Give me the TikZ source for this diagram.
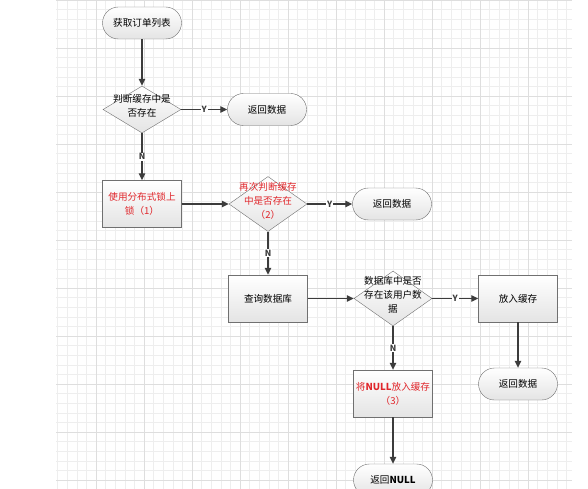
\documentclass[tikz,border=0pt]{standalone}
\usepackage{fontspec}
\setmainfont{Noto Sans CJK SC}
\usepackage{tikz}
\usetikzlibrary{shapes.geometric}
\usetikzlibrary{arrows.meta}
\usetikzlibrary{calc}

\definecolor{bordure}{HTML}{707070}
\definecolor{fleche}{HTML}{3C3C3C}
\definecolor{rouge}{HTML}{E0262B}
\definecolor{fond}{HTML}{E4E4E4}
\definecolor{grillefine}{HTML}{EEEEEE}
\definecolor{grille}{HTML}{DEDEDE}

\newcommand{\dtext}[1]{\smash{\makebox[0pt]{\begin{tabular}{@{}c@{}}#1\end{tabular}}}}

\begin{document}
\begin{tikzpicture}[x=1pt,y=-1pt,
    font=\fontsize{9.6pt}{14pt}\selectfont,
    boite/.style={draw=bordure, top color=white, bottom color=fond, minimum width=79pt, minimum height=47pt, align=center, inner sep=1pt},
    ovale/.style={boite, rounded corners=16pt, minimum height=32pt},
    losange/.style={diamond, draw=bordure, top color=white, bottom color=fond, minimum width=78pt, minimum height=55pt, inner sep=0pt},
    fleche/.style={draw=fleche, line width=1.3pt, -{Triangle[length=7pt,width=6.5pt]}},
    oui/.style={fill=white, inner sep=1pt, font=\fontsize{8.5pt}{10pt}\selectfont\bfseries, text=fleche}]
                % fond
                \fill[white] (0,0) rectangle (588,489);
                \useasboundingbox (0,0) rectangle (588,489);
                \draw[grillefine, line width=0.4pt, xstep=9.6pt, ystep=9.6pt] (56,489) grid (572,0);
                \draw[grille, line width=0.4pt, xstep=48pt, ystep=48pt] (56,489) grid (572,0);

                % cache
                \node[ovale] (debut) at (142,23) {获取订单列表};
                \node[losange, minimum height=47pt] (test1) at (142,109.5) {\dtext{判断缓存中是\\否存在}};
                \node[ovale] (retour1) at (267,109.5) {返回数据};

                % verrou
                \node[boite, text=rouge] (verrou) at (142,204) {使用分布式锁上\\锁（1）};
                \node[losange, text=rouge] (test2) at (268,204) {\dtext{再次判断缓存\\中是否存在\\（2）}};
                \node[ovale] (retour2) at (392,204) {返回数据};

                % base
                \node[boite] (requete) at (268,298.5) {查询数据库};
                \node[losange] (test3) at (393,298.5) {\dtext{数据库中是否\\存在该用户数\\据}};
                \node[boite] (cache) at (518,298.5) {放入缓存};
                \node[ovale] (retour3) at (518,384) {返回数据};
                \node[boite, text=rouge] (nul) at (393,393.5) {将\textbf{NULL}放入缓存\\（3）};
                \node[ovale] (retour4) at (393,480) {返回\textbf{NULL}};

                % flèches
                \draw[fleche] (debut) -- (test1);
                \draw[fleche] (test1) -- node[oui] {Y} (retour1);
                \draw[fleche] (test1) -- node[oui] {N} (verrou);
                \draw[fleche] (verrou) -- (test2);
                \draw[fleche] (test2) -- node[oui] {Y} (retour2);
                \draw[fleche] (test2) -- node[oui] {N} (requete);
                \draw[fleche] (requete) -- (test3);
                \draw[fleche] (test3) -- node[oui] {Y} (cache);
                \draw[fleche] (test3) -- node[oui] {N} (nul);
                \draw[fleche] (cache) -- (retour3);
                \draw[fleche] (nul) -- (retour4);
\end{tikzpicture}
\end{document}
